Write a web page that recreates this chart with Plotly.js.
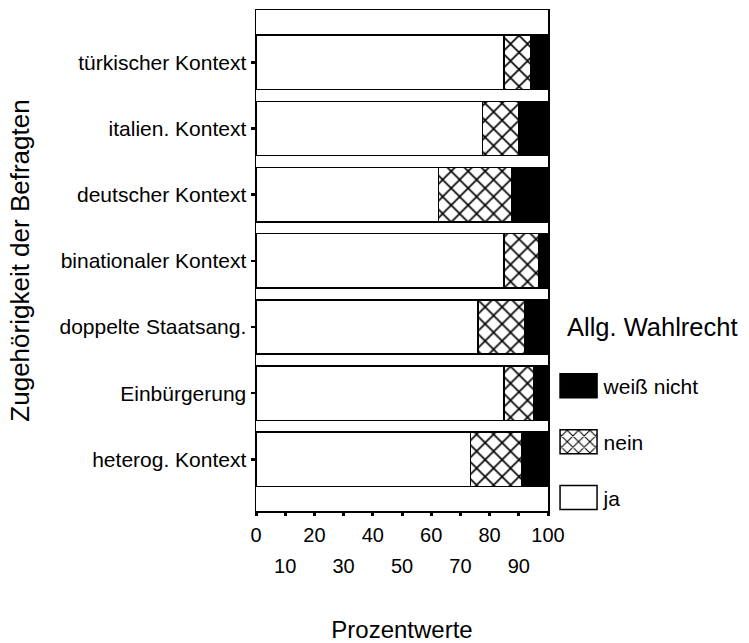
<!DOCTYPE html>
<html>
<head>
<meta charset="utf-8">
<script src="https://cdn.plot.ly/plotly-3.0.1.min.js"></script>
<style>html,body{margin:0;padding:0;background:#fff;}</style>
</head>
<body>
<div id="chart" style="width:749px;height:643px;"></div>
<script>
const categories = ["türkischer Kontext","italien. Kontext","deutscher Kontext","binationaler Kontext","doppelte Staatsang.","Einbürgerung","heterog. Kontext"];
const ja = [85, 77.5, 62.5, 85, 76, 85, 73.5];
const nein = [9, 12.5, 25, 12, 16, 10, 17.5];
const weissNicht = [6, 10, 12.5, 3, 8, 5, 9];
const majorTicks = [0, 20, 40, 60, 80, 100];
const minorTicks = [10, 30, 50, 70, 90];
const legendTitle = "Allg. Wahlrecht";

const FONT = "Liberation Sans, Arial, sans-serif";
const line = {color: "#000", width: 1.5};

const traces = [
  {type: "bar", orientation: "h", name: "ja", x: ja, y: categories, legendgroup: "ja", legendrank: 3,
   marker: {color: "#fff", line: line}, hoverinfo: "x+name"},
  {type: "bar", orientation: "h", name: "nein", x: nein, y: categories, legendgroup: "nein", legendrank: 2,
   marker: {color: "#fff", line: line, pattern: {shape: "x", fgcolor: "#000", bgcolor: "#fff", size: 12, solidity: 0.25}}, hoverinfo: "x+name"},
  {type: "bar", orientation: "h", name: "weiß nicht", x: weissNicht, y: categories, legendgroup: "wn", legendrank: 1,
   marker: {color: "#000", line: line}, hoverinfo: "x+name"},
  // carrier for the second (staggered) row of x tick labels
  {type: "scatter", mode: "markers", x: minorTicks, y: minorTicks.map(() => categories[0]),
   xaxis: "x2", yaxis: "y", marker: {opacity: 0}, showlegend: false, hoverinfo: "skip"}
];

const layout = {
  width: 749, height: 643,
  margin: {l: 256, r: 201, t: 10, b: 132, autoexpand: false},
  paper_bgcolor: "#fff", plot_bgcolor: "#fff",
  font: {family: FONT, color: "#000", size: 20},
  barmode: "stack", bargap: 0.18,
  xaxis: {
    range: [0, 100], tickvals: majorTicks, ticktext: majorTicks.map(String),
    ticks: "outside", ticklen: 3, tickwidth: 3, tickcolor: "#000",
    minor: {tickvals: minorTicks, ticks: "outside", ticklen: 3, tickwidth: 3, tickcolor: "#000", showgrid: false},
    showline: true, linecolor: "#000", linewidth: 1.5, mirror: true,
    showgrid: false, zeroline: false, tickfont: {size: 20}, ticklabelstandoff: 2,
    title: {text: "Prozentwerte", font: {size: 24}, standoff: 79},
    automargin: false
  },
  xaxis2: {
    overlaying: "x", anchor: "y", side: "bottom", range: [0, 100],
    tickvals: minorTicks, ticktext: minorTicks.map(String),
    ticks: "", ticklabelstandoff: 41, showgrid: false, zeroline: false, showline: false,
    tickfont: {size: 20}, automargin: false
  },
  yaxis: {
    type: "category", categoryorder: "array", categoryarray: categories,
    range: [6.78, -0.79],
    ticks: "outside", ticklen: 4, tickwidth: 2.5, tickcolor: "#000",
    showline: true, linecolor: "#000", linewidth: 1.5, mirror: true,
    showgrid: false, zeroline: false, tickfont: {size: 21},
    title: {text: "Zugehörigkeit der Befragten", font: {size: 26}, standoff: 22},
    automargin: false
  },
  showlegend: true,
  legend: {
    x: 1.019, xanchor: "left", y: 0.29, yanchor: "top",
    traceorder: "grouped", tracegroupgap: 25.5,
    font: {size: 21}, bgcolor: "rgba(0,0,0,0)", itemwidth: 40
  },
  annotations: [{
    text: legendTitle, xref: "paper", yref: "paper", x: 1.058, y: 0.367,
    xanchor: "left", yanchor: "middle", showarrow: false, font: {size: 25.5}
  }]
};

Plotly.newPlot("chart", traces, layout, {displayModeBar: false, staticPlot: true}).then(() => {
  document.querySelectorAll("#chart .legend .legendpoints path").forEach(p => {
    p.setAttribute("d", "M18.5,12H-18.5V-12H18.5Z");
  });
});
</script>
</body>
</html>
